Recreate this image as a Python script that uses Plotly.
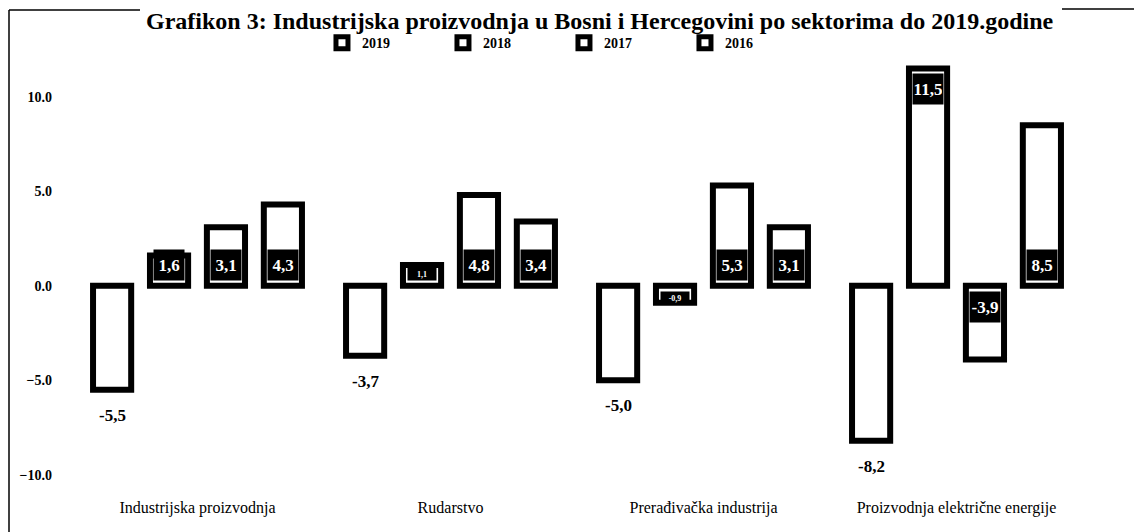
import plotly.graph_objects as go

# Grafikon 3 - industrijska proizvodnja po sektorima
categories = ["Industrijska proizvodnja", "Rudarstvo", "Prerađivačka industrija",
              "Proizvodnja električne energije"]
years = ["2019", "2018", "2017", "2016"]
v2019 = [-5.5, -3.7, -5.0, -8.2]
v2018 = [1.6, 1.1, -0.9, 11.5]
v2017 = [3.1, 4.8, 5.3, -3.9]
v2016 = [4.3, 3.4, 3.1, 8.5]
y_ticks = [-10, -5, 0, 5, 10]

title = "Grafikon 3: Industrijska proizvodnja u Bosni i Hercegovini po sektorima do 2019.godine"

# page body has an 8px margin, so the figure is a bit smaller than the window
W, H = 1134, 524
L, R, T, B = 63, 59, 51, 46
SERIF = "Liberation Serif"
BARGAP = 0.1

series = [v2019, v2018, v2017, v2016]
xpos = list(range(len(categories)))


def fmt(v):
    return f"{v:.1f}".replace(".", ",")


fig = go.Figure()
for year, vals in zip(years, series):
    fig.add_trace(go.Bar(
        x=xpos, y=vals, name=year,
        marker=dict(color="white", line=dict(color="black", width=6)),
        hoverinfo="name+y",
    ))

# value labels: 2019 below the bar, others in a black box at the bar base
slot = (1 - BARGAP) / len(years)
annotations = []
for j, (year, vals) in enumerate(zip(years, series)):
    off = -(1 - BARGAP) / 2 + slot * (j + 0.5)
    for i, v in enumerate(vals):
        if year == "2019":
            annotations.append(dict(
                x=i + off, y=v, text=fmt(v), showarrow=False,
                yanchor="top", yshift=-14,
                font=dict(family=SERIF, size=17, color="black", weight="bold")))
            continue
        small = abs(v) < 1.3
        at_end = year == "2018" and v > 10
        if at_end:
            ya, yy, ys = "top", v, -5
        elif v >= 0:
            ya, yy, ys = "bottom", 0, 5
        else:
            ya, yy, ys = "top", 0, -5
        annotations.append(dict(
            x=i + off, y=yy, text=fmt(v), showarrow=False,
            yanchor=ya, yshift=ys, bgcolor="black",
            width=28 if not small else 26,
            height=28 if not small else 10,
            font=dict(family=SERIF, size=17 if not small else 8,
                      color="white", weight="bold")))

pw, ph = W - L - R, H - T - B


def px_x(p):
    return (p - L) / pw


def px_y(p):
    return (H - B - p) / ph


# title at the top, between the frame segments
annotations.append(dict(
    x=px_x(592), y=px_y(13), xref="paper", yref="paper", yanchor="middle",
    text=title, showarrow=False,
    font=dict(family=SERIF, size=24, color="black", weight="bold")))

line = dict(color="black", width=1.5)
shapes = [
    dict(type="line", xref="paper", yref="paper", x0=px_x(1), x1=px_x(1),
         y0=px_y(2), y1=px_y(H), line=line),
    dict(type="line", xref="paper", yref="paper", x0=px_x(1), x1=px_x(132),
         y0=px_y(2), y1=px_y(2), line=line),
    dict(type="line", xref="paper", yref="paper", x0=px_x(1054), x1=px_x(W),
         y0=px_y(1), y1=px_y(1), line=line),
]

fig.update_layout(
    width=W, height=H,
    margin=dict(l=L, r=R, t=T, b=B),
    paper_bgcolor="white", plot_bgcolor="white",
    barmode="group", bargap=BARGAP, bargroupgap=0.33,
    font=dict(family=SERIF, color="black"),
    legend=dict(orientation="h", x=0.248, y=1.037, yanchor="middle",
                xanchor="left", itemwidth=30, entrywidth=76,
                font=dict(family=SERIF, size=14, weight="bold"),
                traceorder="normal"),
    xaxis=dict(tickvals=xpos, ticktext=categories, range=[-0.5, 3.5],
               showgrid=False, zeroline=False, showline=False,
               ticks="", ticklabelstandoff=10,
               tickfont=dict(family=SERIF, size=16)),
    yaxis=dict(range=[-10.6, 12], tickvals=y_ticks, tickformat=".1f",
               showgrid=False, zeroline=False, showline=False,
               ticks="", ticklabelstandoff=18,
               tickfont=dict(family=SERIF, size=14, weight="bold")),
    annotations=annotations,
    shapes=shapes,
)

fig.write_html("out.html")
